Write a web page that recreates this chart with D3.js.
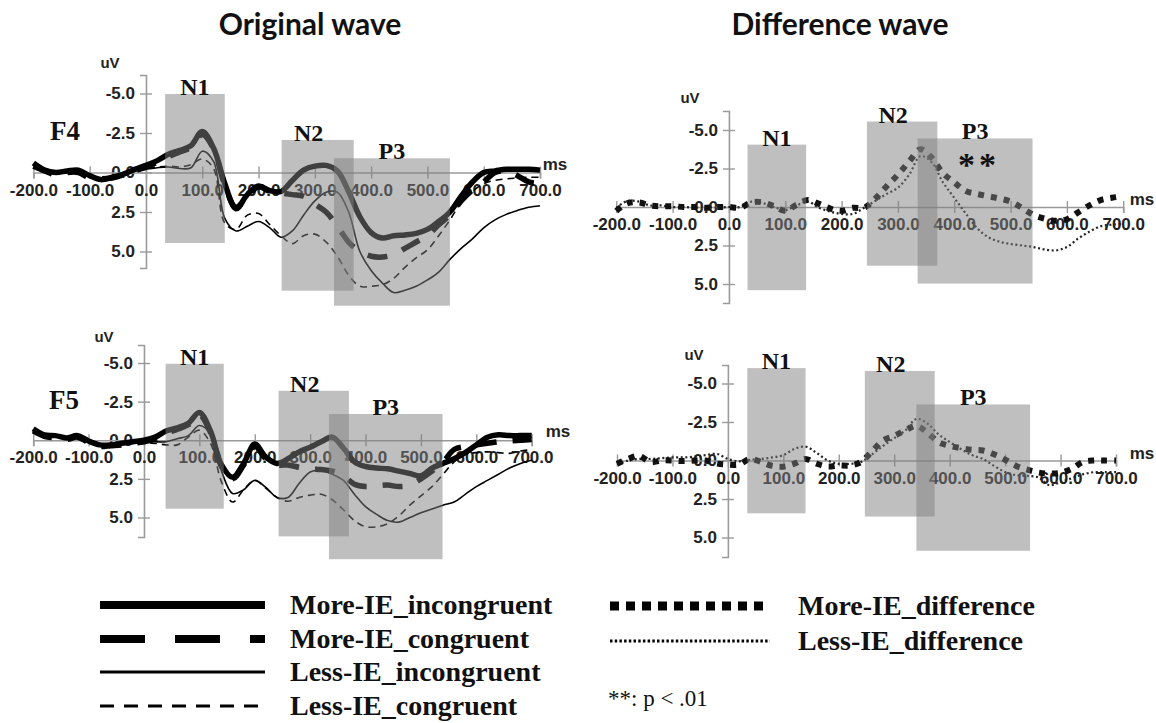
<!DOCTYPE html>
<html>
<head>
<meta charset="utf-8">
<script src="https://cdn.jsdelivr.net/npm/d3@7/dist/d3.min.js"></script>
<style>
  body { margin: 0; background: #fff; }
  svg { display: block; }
</style>
</head>
<body>
<svg id="fig" width="1156" height="723"></svg>
<script>
// ---- sampling times (ms), shared by every waveform ----
const times = [-200,-180,-160,-140,-120,-100,-80,-60,-40,-20,0,20,40,60,80,100,120,140,160,180,
  200,220,240,260,280,300,320,340,360,380,400,420,440,460,480,500,520,540,560,580,600,620,640,660,680,700];

// ---- F4, original waves (uV) ----
const f4MoreIncongruent = [-0.6,-0.15,0.0,-0.1,-0.15,0.2,0.45,0.3,0.1,-0.2,-0.45,-0.75,-1.15,-1.4,-1.7,-2.6,-1.55,0.7,2.3,1.4,
  0.85,1.15,1.2,0.5,-0.15,-0.4,-0.45,-0.1,1.2,2.8,3.8,4.15,4.0,3.95,3.85,3.6,3.1,2.5,1.5,0.6,0.0,-0.1,-0.2,-0.2,-0.2,-0.15];
const f4MoreCongruent = [-0.4,-0.1,0.15,0.0,0.0,0.35,0.4,0.35,0.15,-0.1,-0.35,-0.65,-1.0,-1.3,-1.6,-2.4,-1.5,0.8,2.2,1.5,
  0.9,1.2,1.3,1.4,1.5,2.0,2.5,3.4,4.4,5.0,5.3,5.35,5.2,4.8,4.4,4.0,3.3,2.7,1.8,1.1,0.6,0.0,-0.1,0.2,0.6,0.7];
const f4LessIncongruent = [-0.5,-0.1,0.05,-0.1,-0.1,0.3,0.4,0.3,0.1,-0.1,-0.2,-0.3,-0.35,-0.25,-0.3,-1.35,-0.7,2.9,3.7,3.4,
  3.1,3.5,4.1,3.7,2.7,1.8,1.25,1.25,2.5,5.0,6.2,7.0,7.6,7.45,7.2,6.8,6.3,5.5,4.8,4.2,3.5,3.0,2.65,2.4,2.2,2.1];
const f4LessCongruent = [-0.5,-0.1,0.05,-0.1,-0.1,0.3,0.4,0.3,0.1,-0.1,-0.25,-0.35,-0.4,-0.35,-0.5,-0.85,-0.26,3.2,3.6,2.7,
  2.6,3.3,4.0,4.5,4.0,3.9,4.4,5.3,6.5,7.2,7.2,7.1,6.7,6.0,5.4,4.9,4.0,3.0,1.9,1.2,0.7,0.5,0.4,0.35,0.3,0.3];

// ---- F5, original waves (uV) ----
const f5MoreIncongruent = [-0.75,-0.35,-0.3,-0.15,-0.3,0.05,0.3,0.3,0.2,0.1,0.0,-0.2,-0.6,-0.8,-1.1,-1.8,-0.6,1.6,2.4,1.5,
  0.25,1.1,1.5,1.2,0.75,0.45,0.1,-0.2,0.5,1.4,1.7,1.8,1.85,2.0,2.15,2.3,1.8,1.5,1.2,0.8,0.3,-0.2,-0.35,-0.3,-0.3,-0.3];
const f5MoreCongruent = [-0.6,-0.25,-0.15,-0.05,-0.2,0.15,0.4,0.35,0.3,0.2,0.1,-0.1,-0.45,-0.7,-1.0,-1.65,-0.5,1.7,2.5,1.6,
  0.4,1.2,1.6,1.6,1.75,1.85,1.9,2.0,2.3,2.85,3.0,2.95,2.9,3.0,2.9,2.5,2.0,1.4,0.6,0.4,0.3,0.2,0.1,0.05,0.0,-0.05];
const f5LessIncongruent = [-0.6,-0.3,-0.25,-0.1,-0.25,0.1,0.3,0.3,0.2,0.1,0.05,0.1,0.1,-0.1,-0.3,-0.95,-0.4,2.0,3.45,3.2,
  2.6,3.05,3.7,3.7,2.8,2.05,1.95,2.2,2.6,3.5,4.3,4.8,5.2,5.3,5.0,4.7,4.45,4.2,4.0,3.5,3.0,2.6,2.2,1.8,1.5,1.3];
const f5LessCongruent = [-0.6,-0.3,-0.25,-0.1,-0.25,0.1,0.3,0.3,0.25,0.2,0.15,0.2,0.3,0.3,-0.2,-0.65,0.2,2.7,4.0,3.2,
  2.6,3.1,3.7,3.95,3.7,3.55,3.5,3.85,4.5,5.2,5.6,5.6,5.4,4.9,4.2,3.6,3.0,2.2,1.4,0.9,0.8,0.75,0.8,0.85,0.7,0.6];

// ---- difference waves (incongruent minus congruent, uV) ----
const f4MoreDifference = [0.26,-0.25,-0.3,-0.1,-0.05,-0.05,0.0,0.0,0.05,0.0,0.0,0.05,-0.3,-0.3,-0.05,0.25,-0.15,-0.45,-0.2,0.1,
  0.25,0.05,0.05,-0.55,-1.35,-2.1,-2.95,-3.75,-3.2,-2.2,-1.6,-1.05,-0.85,-0.7,-0.55,-0.35,0.05,0.5,0.75,0.9,0.8,0.35,-0.1,-0.45,-0.6,-0.7];
const f4LessDifference = [0.05,-0.4,-0.35,-0.1,-0.1,0.0,0.0,0.05,0.0,0.05,0.0,0.0,-0.35,-0.25,0.0,0.2,-0.1,-0.35,0.05,0.3,
  0.45,0.45,0.05,-0.4,-0.85,-1.25,-2.1,-3.3,-2.9,-1.6,-0.6,0.4,1.35,1.95,2.25,2.4,2.5,2.6,2.75,2.82,2.6,2.05,1.6,1.25,1.15,1.1];
const f5MoreDifference = [0.22,-0.1,-0.3,0.1,0.0,0.0,0.04,0.0,0.0,0.2,0.26,0.26,-0.1,0.1,0.35,0.4,0.2,-0.1,0.2,0.39,
  0.32,0.32,0.1,-0.6,-1.3,-1.6,-1.95,-2.25,-1.8,-1.2,-0.95,-0.8,-0.7,-0.65,-0.4,-0.05,0.35,0.6,0.78,0.85,0.8,0.55,0.1,0.0,0.0,0.0];
const f5LessDifference = [0.22,0.0,-0.1,-0.1,-0.15,-0.2,-0.2,-0.25,-0.35,-0.43,-0.1,0.05,-0.05,-0.1,-0.2,-0.35,-0.75,-0.9,-0.5,0.0,
  0.22,0.22,0.1,-0.4,-0.95,-1.45,-1.95,-2.7,-2.4,-1.7,-1.2,-0.75,-0.35,-0.1,0.35,0.75,0.95,1.0,1.1,1.6,1.4,1.15,0.9,0.76,0.76,0.76];

// ---- component windows (ms) per panel: N1, N2, P3 ----
const componentNames = ["N1", "N2", "P3"];
const f4OriginalWindows = [[34, 140], [241, 369], [334, 540]];
const f5OriginalWindows = [[39, 144], [243, 370], [334, 539]];
const f4DifferenceWindows = [[33, 137], [245, 370], [335, 539]];
const f5DifferenceWindows = [[35, 140], [247, 373], [340, 545]];

// ---- axis ticks ----
const msTicks = [-200, -100, 0, 100, 200, 300, 400, 500, 600, 700];
const uvTicks = [-5, -2.5, 0, 2.5, 5];

// ---- legend entries ----
const originalLegend = ["More-IE_incongruent", "More-IE_congruent", "Less-IE_incongruent", "Less-IE_congruent"];
const differenceLegend = ["More-IE_difference", "Less-IE_difference"];
const significanceNote = "**: p < .01";

// ---------------------------------------------------------------
const fmt = d3.formatLocale({decimal: ".", thousands: ",", grouping: [3], currency: ["", ""], minus: "-"}).format(".1f");
const svg = d3.select("#fig");
const SERIF = "'Liberation Serif', 'Times New Roman', serif";
const SANS = "'Liberation Sans', Arial, sans-serif";

const lineStyles = {
  moreInc:  {w: 5.5, dash: null,   color: "#000"},
  moreCon:  {w: 5.5, dash: "20,16", color: "#000"},
  lessInc:  {w: 1.6, dash: null,   color: "#000"},
  lessCon:  {w: 1.6, dash: "7,5",  color: "#000"},
  moreDiff: {w: 6,   dash: "6,7",  color: "#111"},
  lessDiff: {w: 2.2, dash: "2,2.6", color: "#222"}
};

// panel geometry: x range for -200..700 ms, y range for -5..5 uV,
// vertical extent of the y axis line, and the shaded-window heights (uV)
const panels = [
  {site: "F4", xr: [33.4, 540], yr: [93.5, 251.5], axisY: [75, 268], uv: [110, 63], ms: [555, 164],
   windows: f4OriginalWindows, boxUv: [[-4.97, 4.46], [-2.06, 7.48], [-0.9, 8.43]],
   series: [["lessCon", f4LessCongruent], ["lessInc", f4LessIncongruent], ["moreCon", f4MoreCongruent], ["moreInc", f4MoreIncongruent]],
   siteLabel: [65, 131]},
  {site: "F5", xr: [33.2, 531.7], yr: [363, 517.5], axisY: [345, 537], uv: [104, 337], ms: [558, 431],
   windows: f5OriginalWindows, boxUv: [[-4.95, 4.43], [-3.2, 6.22], [-1.7, 7.7]],
   series: [["lessCon", f5LessCongruent], ["lessInc", f5LessIncongruent], ["moreCon", f5MoreCongruent], ["moreInc", f5MoreIncongruent]],
   siteLabel: [64, 400]},
  {site: null, xr: [616.3, 1123.2], yr: [130, 284], axisY: [111, 303], uv: [690, 98], ms: [1142, 199],
   windows: f4DifferenceWindows, boxUv: [[-4.05, 5.4], [-5.55, 3.81], [-4.45, 4.97]],
   series: [["lessDiff", f4LessDifference], ["moreDiff", f4MoreDifference]],
   star: true},
  {site: null, xr: [617, 1116], yr: [383.5, 537.5], axisY: [365, 557], uv: [694, 355], ms: [1142, 453],
   windows: f5DifferenceWindows, boxUv: [[-6.0, 3.43], [-5.81, 3.64], [-3.64, 5.86]],
   series: [["lessDiff", f5LessDifference], ["moreDiff", f5MoreDifference]]}
];

// column titles
svg.append("text").attr("x", 310).attr("y", 35).attr("text-anchor", "middle")
  .attr("font-family", "Lato, 'Open Sans', sans-serif").attr("font-weight", 700).attr("font-size", 30)
  .attr("fill", "#111").text("Original wave");
svg.append("text").attr("x", 840).attr("y", 35).attr("text-anchor", "middle")
  .attr("font-family", "Lato, 'Open Sans', sans-serif").attr("font-weight", 700).attr("font-size", 30)
  .attr("fill", "#111").text("Difference wave");

panels.forEach(p => {
  const x = d3.scaleLinear().domain([-200, 700]).range(p.xr);
  const y = d3.scaleLinear().domain([-5, 5]).range(p.yr);
  const g = svg.append("g");

  // y axis spanning the full vertical extent
  const yAxisScale = y.copy().domain([y.invert(p.axisY[0]), y.invert(p.axisY[1])]).range(p.axisY);
  const yAxis = g.append("g").attr("transform", `translate(${x(0)},0)`)
    .call(d3.axisLeft(yAxisScale).tickValues(uvTicks).tickFormat(fmt).tickSizeOuter(0).tickSize(6).tickPadding(5));
  // x axis along zero
  const xAxis = g.append("g").attr("transform", `translate(0,${y(0)})`)
    .call(d3.axisBottom(x).tickValues(msTicks).tickFormat(fmt).tickSizeOuter(0).tickSize(6));

  [yAxis, xAxis].forEach(a => {
    a.select(".domain").attr("stroke", "#9a9a9a").attr("stroke-width", 1.6);
    a.selectAll(".tick line").attr("stroke", "#9a9a9a").attr("stroke-width", 1.4);
    a.selectAll(".tick text").attr("font-family", SANS).attr("font-weight", 700)
      .attr("font-size", 17).attr("fill", "#222");
  });
  yAxis.selectAll(".tick line").attr("x1", -6).attr("x2", 6);
  xAxis.selectAll(".tick line").attr("y1", -6).attr("y2", 6);
  xAxis.selectAll(".tick text").attr("y", 23).attr("dy", 0);

  g.append("text").attr("x", p.uv[0]).attr("y", p.uv[1] + 5).attr("text-anchor", "middle")
    .attr("font-family", SANS).attr("font-weight", 700).attr("font-size", 15).attr("fill", "#222").text("uV");
  g.append("text").attr("x", p.ms[0]).attr("y", p.ms[1] + 6).attr("text-anchor", "middle")
    .attr("font-family", SANS).attr("font-weight", 700).attr("font-size", 17).attr("fill", "#222").text("ms");

  // waveforms
  p.series.forEach(([key, vals]) => {
    const st = lineStyles[key];
    const line = d3.line().x((d, i) => x(times[i])).y(d => y(d)).curve(d3.curveCatmullRom.alpha(0.5));
    g.append("path").datum(vals).attr("d", line)
      .attr("fill", "none").attr("stroke", st.color).attr("stroke-width", st.w)
      .attr("stroke-dasharray", st.dash).attr("stroke-linejoin", "round");
  });

  // shaded component windows
  p.windows.forEach((w, i) => {
    const top = y(p.boxUv[i][0]), bot = y(p.boxUv[i][1]);
    g.append("rect").attr("x", x(w[0])).attr("y", top)
      .attr("width", x(w[1]) - x(w[0])).attr("height", bot - top)
      .attr("fill", "#808080").attr("fill-opacity", 0.5);
    const dx = componentNames[i] === "N2" ? -9 : 0;
    g.append("text").attr("x", (x(w[0]) + x(w[1])) / 2 + dx).attr("y", top + 1)
      .attr("text-anchor", "middle").attr("font-family", SERIF).attr("font-weight", 700)
      .attr("font-size", 24).attr("fill", "#111").text(componentNames[i]);
  });

  if (p.site) {
    g.append("text").attr("x", p.siteLabel[0]).attr("y", p.siteLabel[1] + 9).attr("text-anchor", "middle")
      .attr("font-family", SERIF).attr("font-weight", 700).attr("font-size", 27).attr("fill", "#111").text(p.site);
  }
  if (p.star) {
    const w = p.windows[2];
    g.append("text").attr("x", (x(w[0]) + x(w[1])) / 2 + 4).attr("y", 176).attr("text-anchor", "middle")
      .attr("font-family", SERIF).attr("font-weight", 700).attr("font-size", 34)
      .attr("letter-spacing", 4).attr("fill", "#111").text("**");
  }
});

// ---- legend ----
const legend = svg.append("g");
const legendLeft = [
  {y: 605, w: 8, dash: null},
  {y: 639, w: 8, dash: "45,30"},
  {y: 672, w: 3, dash: null},
  {y: 706, w: 3, dash: "14,10"}
];
originalLegend.forEach((name, i) => {
  const s = legendLeft[i];
  legend.append("line").attr("x1", 100).attr("x2", 265).attr("y1", s.y).attr("y2", s.y)
    .attr("stroke", "#000").attr("stroke-width", s.w).attr("stroke-dasharray", s.dash);
  legend.append("text").attr("x", 290).attr("y", s.y + 9).attr("font-family", SERIF)
    .attr("font-weight", 700).attr("font-size", 28).attr("fill", "#111").text(name);
});
const legendRight = [
  {y: 606, w: 9, dash: "9,7"},
  {y: 641, w: 3, dash: "2.5,2.2"}
];
differenceLegend.forEach((name, i) => {
  const s = legendRight[i];
  legend.append("line").attr("x1", 610).attr("x2", 770).attr("y1", s.y).attr("y2", s.y)
    .attr("stroke", "#000").attr("stroke-width", s.w).attr("stroke-dasharray", s.dash);
  legend.append("text").attr("x", 798).attr("y", s.y + 9).attr("font-family", SERIF)
    .attr("font-weight", 700).attr("font-size", 28).attr("fill", "#111").text(name);
});
legend.append("text").attr("x", 608).attr("y", 706).attr("font-family", SERIF)
  .attr("font-size", 23).attr("fill", "#111").text(significanceNote);
</script>
</body>
</html>
